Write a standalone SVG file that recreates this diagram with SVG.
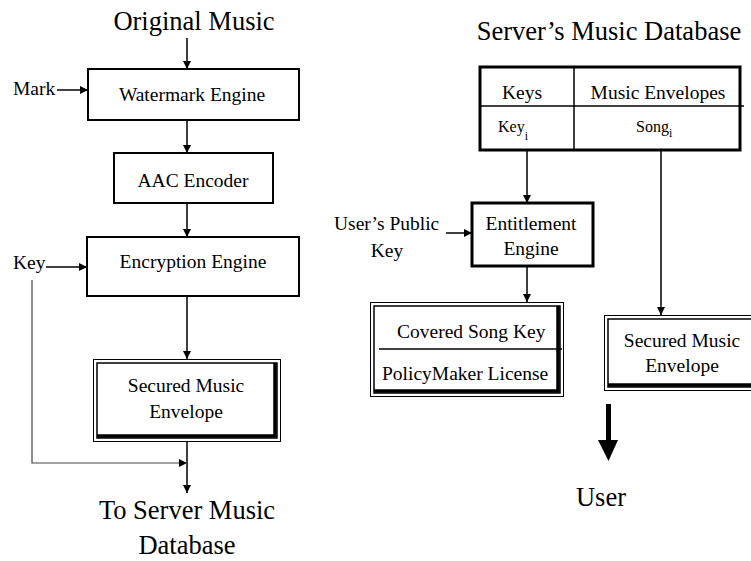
<svg xmlns="http://www.w3.org/2000/svg" width="751" height="561" viewBox="0 0 751 561">
  <defs>
    <marker id="arrow" viewBox="0 0 10 10" refX="10" refY="5" markerWidth="8" markerHeight="8" markerUnits="userSpaceOnUse" orient="auto">
      <path d="M0,0 L10,5 L0,10 z" fill="#000"/>
    </marker>
  </defs>

  <rect width="751" height="561" fill="#fff"/>

  <!-- free-standing labels -->
  <g fill="#000">
    <text font-family="Liberation Serif" font-size="26.5" text-anchor="middle" x="194" y="30">Original Music</text>
    <text font-family="Liberation Serif" font-size="26.5" text-anchor="middle" x="609" y="40">Server&#8217;s Music Database</text>
    <text font-family="Liberation Serif" font-size="26.5" text-anchor="middle" x="187" y="519">To Server Music</text>
    <text font-family="Liberation Serif" font-size="26.5" text-anchor="middle" x="187" y="554">Database</text>
    <text font-family="Liberation Serif" font-size="26.5" text-anchor="middle" x="601" y="506">User</text>
    <text font-family="Liberation Serif" font-size="19.5" x="13" y="95">Mark</text>
    <text font-family="Liberation Serif" font-size="19.5" x="13" y="269">Key</text>
    <text font-family="Liberation Serif" font-size="19.5" x="334" y="230">User&#8217;s Public</text>
    <text font-family="Liberation Serif" font-size="19.5" text-anchor="middle" x="387" y="257">Key</text>
  </g>

  <!-- connectors -->
  <g id="connectors" fill="none" stroke="#000" stroke-width="1.5">
    <line marker-end="url(#arrow)" x1="187" y1="38" x2="187" y2="69"/>
    <line marker-end="url(#arrow)" x1="57" y1="90" x2="88" y2="90"/>
    <line marker-end="url(#arrow)" x1="187" y1="120" x2="187" y2="153"/>
    <line marker-end="url(#arrow)" x1="187" y1="203" x2="187" y2="237"/>
    <line marker-end="url(#arrow)" x1="46" y1="267" x2="87" y2="267"/>
    <line marker-end="url(#arrow)" x1="187" y1="296" x2="187" y2="359"/>
    <polyline stroke="#444" stroke-width="1.2" points="32,280 32,463 179,463"/>
    <path d="M179,459 L187,463 L179,467 z" fill="#000" stroke="none"/>
    <line marker-end="url(#arrow)" x1="187" y1="442" x2="187" y2="493"/>
    <line marker-end="url(#arrow)" x1="527" y1="150" x2="527" y2="203"/>
    <line marker-end="url(#arrow)" x1="446" y1="233" x2="472" y2="233"/>
    <line marker-end="url(#arrow)" x1="527" y1="266" x2="527" y2="302"/>
    <line marker-end="url(#arrow)" x1="661" y1="150" x2="661" y2="315"/>
    <!-- heavy arrow toward the user -->
    <rect x="606" y="404" width="5" height="37" fill="#000" stroke="none"/>
    <path d="M598,440 L618,440 L608.5,461 z" fill="#000" stroke="none"/>
  </g>

  <g id="watermark-engine">
    <rect x="88" y="69" width="211" height="51" fill="#fff" stroke="#000" stroke-width="2"/>
    <text font-family="Liberation Serif" font-size="19.5" text-anchor="middle" x="192" y="101">Watermark Engine</text>
  </g>

  <g id="aac-encoder">
    <rect x="114" y="153" width="159" height="50" fill="#fff" stroke="#000" stroke-width="2"/>
    <text font-family="Liberation Serif" font-size="19.5" text-anchor="middle" x="193" y="187">AAC Encoder</text>
  </g>

  <g id="encryption-engine">
    <rect x="87" y="237" width="212" height="59" fill="#fff" stroke="#000" stroke-width="2"/>
    <text font-family="Liberation Serif" font-size="19.5" text-anchor="middle" x="193" y="268">Encryption Engine</text>
  </g>

  <g id="secured-envelope-left">
    <rect x="93.5" y="359.5" width="187" height="82" fill="#fff" stroke="#000" stroke-width="1"/>
    <rect x="97" y="363" width="180" height="75" fill="none" stroke="#000" stroke-width="1.5"/>
    <polyline points="97,436 275,436 275,363" fill="none" stroke="#000" stroke-width="3.5"/>
    <text font-family="Liberation Serif" font-size="19.5" text-anchor="middle" x="186" y="392">Secured Music</text>
    <text font-family="Liberation Serif" font-size="19.5" text-anchor="middle" x="186" y="418">Envelope</text>
  </g>

  <g id="music-database">
    <rect x="480" y="67" width="260" height="83" fill="#fff" stroke="#000" stroke-width="3"/>
    <line x1="574" y1="67" x2="574" y2="150" stroke="#000" stroke-width="1.5"/>
    <line x1="480" y1="106" x2="744" y2="106" stroke="#000" stroke-width="1.5"/>
    <text font-family="Liberation Serif" font-size="19.5" x="502" y="99">Keys</text>
    <text font-family="Liberation Serif" font-size="19.5" text-anchor="middle" x="658" y="99">Music Envelopes</text>
    <text font-family="Liberation Serif" font-size="16" x="498" y="132">Key<tspan font-size="12" dy="8">i</tspan></text>
    <text font-family="Liberation Serif" font-size="16" x="636" y="132">Song<tspan font-size="12" dy="5">i</tspan></text>
  </g>

  <g id="entitlement-engine">
    <rect x="472" y="203" width="121" height="63" fill="#fff" stroke="#000" stroke-width="3"/>
    <text font-family="Liberation Serif" font-size="19.5" text-anchor="middle" x="531" y="230">Entitlement</text>
    <text font-family="Liberation Serif" font-size="19.5" text-anchor="middle" x="531" y="255">Engine</text>
  </g>

  <g id="license">
    <rect x="370.5" y="302.5" width="193" height="94" fill="#fff" stroke="#000" stroke-width="1"/>
    <rect x="374" y="306" width="186" height="87" fill="none" stroke="#000" stroke-width="1.5"/>
    <polyline points="374,391 558,391 558,306" fill="none" stroke="#000" stroke-width="3.5"/>
    <line x1="379" y1="349" x2="562" y2="349" stroke="#000" stroke-width="1.5"/>
    <text font-family="Liberation Serif" font-size="19.5" x="397" y="338">Covered Song Key</text>
    <text font-family="Liberation Serif" font-size="19.5" x="382" y="380">PolicyMaker License</text>
  </g>

  <g id="secured-envelope-right">
    <rect x="604.5" y="315.5" width="160" height="75" fill="#fff" stroke="#000" stroke-width="1"/>
    <rect x="608" y="319" width="160" height="68" fill="none" stroke="#000" stroke-width="1.5"/>
    <line x1="608" y1="385" x2="760" y2="385" stroke="#000" stroke-width="3.5"/>
    <text font-family="Liberation Serif" font-size="19.5" text-anchor="middle" x="682" y="347">Secured Music</text>
    <text font-family="Liberation Serif" font-size="19.5" text-anchor="middle" x="682" y="372">Envelope</text>
  </g>
</svg>
